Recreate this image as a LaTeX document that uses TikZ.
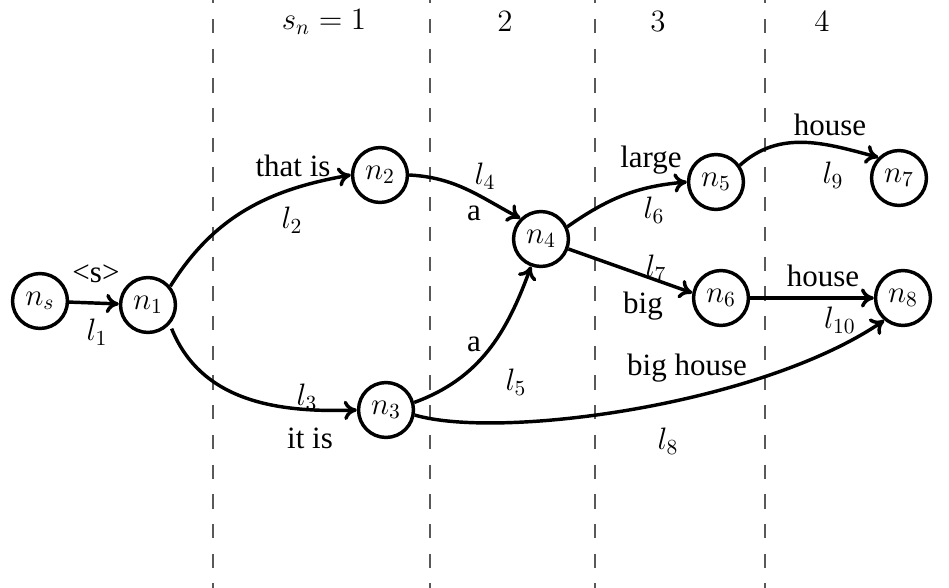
\documentclass[tikz,border=0pt]{standalone}
\usepackage{fontspec}
\setmainfont{Liberation Serif}
\usetikzlibrary{arrows.meta}
\begin{document}
\begin{tikzpicture}[x=0.4645pt, y=0.4645pt, font=\Large,
  state/.style={circle, draw, line width=1.6pt, minimum size=25.5pt, inner sep=0pt},
  edge/.style={line width=1.6pt, -{To[length=6pt, width=9pt]}},
  sep/.style={gray!70!black, line width=0.6pt, dash pattern=on 6.6pt off 7.2pt, dash phase=5pt},
  lab/.style={inner sep=0pt}]
\useasboundingbox (0,0) rectangle (949,-588);
% separators
\foreach \xx/\nm in {213/a,430/b,595/c,765/d} {
  \coordinate (top\nm) at (\xx,0);
  \coordinate (bot\nm) at (\xx,-588);
  \draw[sep] (top\nm) -- (bot\nm);
}
% stage labels
\node[lab] (st1) at (324,-22) {$s_n=1$};
\node[lab] (st2) at (505,-22) {$2$};
\node[lab] (st3) at (658,-22) {$3$};
\node[lab] (st4) at (822,-22) {$4$};
% states
\node[state] (ns) at (40,-301) {$n_s$};
\node[state] (n1) at (148,-305) {$n_1$};
\node[state] (n2) at (380,-175) {$n_2$};
\node[state] (n3) at (386,-410) {$n_3$};
\node[state] (n4) at (541,-239) {$n_4$};
\node[state] (n5) at (716,-182) {$n_5$};
\node[state] (n6) at (721,-298) {$n_6$};
\node[state] (n7) at (899,-178) {$n_7$};
\node[state] (n8) at (903,-298) {$n_8$};
% edges
\draw[edge] (ns) -- (n1);
\draw[edge] (n1.40) to[out=58, in=190] (n2.west);
\draw[edge] ([shift={(3,-3)}]n1.-45) to[out=-68, in=182] (n3.west);
\draw[edge] (n2.east) to[out=-3, in=152] (n4.135);
\draw[edge] (n3.15) to[out=20, in=-110] (n4.-110);
\draw[edge] (n3.-10) .. controls (500,-440) and (760,-405) .. (n8.-130);
\draw[edge] (n4.25) to[out=35, in=185] (n5.west);
\draw[edge] (n4.-20) -- (n6.170);
\draw[edge] (n5.35) to[out=42, in=165] (n7.135);
\draw[edge] (n6) -- (n8);
% edge labels
\node[lab] (w1) at (96,-274) {<s>};
\node[lab] (l1) at (97,-332) {$l_1$};
\node[lab] (w2) at (293,-166) {that is};
\node[lab] (l2) at (292,-220) {$l_2$};
\node[lab] (l3) at (307,-397) {$l_3$};
\node[lab] (w3) at (310,-438) {it is};
\node[lab] (l4) at (485,-176) {$l_4$};
\node[lab] (w4) at (474,-213) {a};
\node[lab] (w5) at (474,-344) {a};
\node[lab] (l5) at (516,-382) {$l_5$};
\node[lab] (w8) at (687,-368) {big house};
\node[lab] (l8) at (668,-441) {$l_8$};
\node[lab] (w6) at (651,-160) {large};
\node[lab] (l6) at (654,-210) {$l_6$};
\node[lab] (l7) at (656,-268) {$l_7$};
\node[lab] (w7) at (643,-306) {big};
\node[lab] (w10) at (823,-276) {house};
\node[lab] (l10) at (840,-320) {$l_{10}$};
\node[lab] (w9) at (830,-125) {house};
\node[lab] (l9) at (833,-175) {$l_9$};
\end{tikzpicture}
\end{document}
